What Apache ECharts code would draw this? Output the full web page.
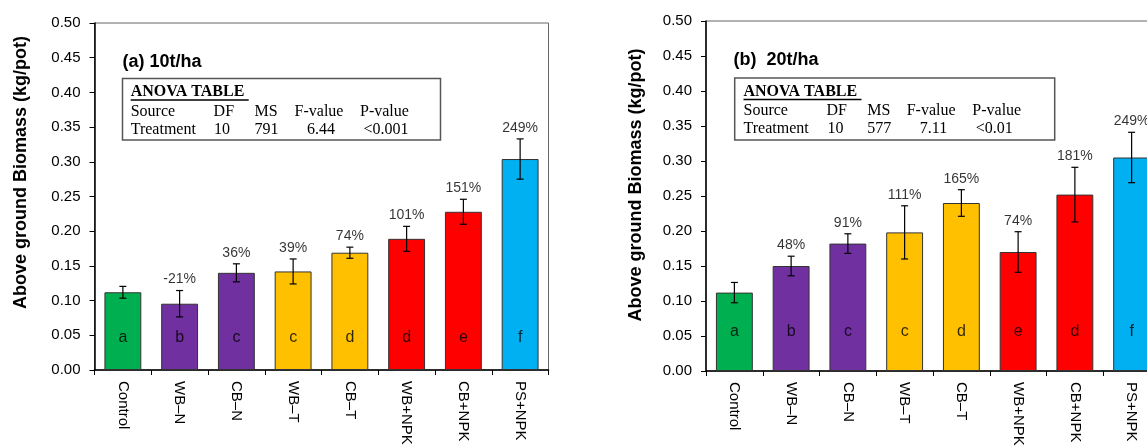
<!DOCTYPE html>
<html>
<head>
<meta charset="utf-8">
<script src="https://cdn.jsdelivr.net/npm/echarts@6/dist/echarts.min.js"></script>
<style>html,body{margin:0;padding:0;background:#fff}#c{width:1147px;height:446px}</style>
</head>
<body>
<div id="c"></div>
<script>
const categories = ['Control', 'WB\u2013N', 'CB\u2013N', 'WB\u2013T', 'CB\u2013T', 'WB+NPK', 'CB+NPK', 'PS+NPK'];
const yTicks = [0, 0.05, 0.10, 0.15, 0.20, 0.25, 0.30, 0.35, 0.40, 0.45, 0.50];

const meanA = [0.112, 0.0955, 0.140, 0.142, 0.169, 0.189, 0.228, 0.304];
const errA = [0.0085, 0.019, 0.013, 0.018, 0.008, 0.018, 0.018, 0.029];
const pctA = ['', '-21%', '36%', '39%', '74%', '101%', '151%', '249%'];
const letterA = ['a', 'b', 'c', 'c', 'd', 'd', 'e', 'f'];

const meanB = [0.112, 0.150, 0.182, 0.198, 0.240, 0.170, 0.252, 0.305];
const errB = [0.0145, 0.014, 0.014, 0.038, 0.019, 0.029, 0.039, 0.036];
const pctB = ['', '48%', '91%', '111%', '165%', '74%', '181%', '249%'];
const letterB = ['a', 'b', 'c', 'c', 'd', 'e', 'd', 'f'];

const anovaA = { ms: '791', f: '6.44', p: '<0.001' };
const anovaB = { ms: '577', f: '7.11', p: '<0.01' };

const barColors = ['#00B050', '#7030A0', '#7030A0', '#FFC000', '#FFC000', '#FF0000', '#FF0000', '#00B0F0'];

const chart = echarts.init(document.getElementById('c'), null, { renderer: 'canvas' });
const SANS = 'Liberation Sans, Arial, sans-serif';
const SERIF = 'Liberation Serif, Times New Roman, serif';

function grid(left, top, height) {
  return { left: left, top: top, width: 454, height: height, show: true, borderColor: '#666', borderWidth: 1, containLabel: false, outerBoundsMode: 'none' };
}
function xAxis(gi) {
  return {
    type: 'category', gridIndex: gi, data: categories, boundaryGap: true,
    axisLine: { lineStyle: { color: '#000', width: 1.5 } },
    axisTick: { show: true, length: 5, lineStyle: { color: '#000', width: 1 } },
    axisLabel: { rotate: -90, margin: 11, color: '#000', fontFamily: SANS, fontSize: 15, interval: 0 },
    splitLine: { show: false }
  };
}
function yAxis(gi) {
  return {
    type: 'value', gridIndex: gi, min: 0, max: 0.5, interval: 0.05,
    axisLine: { show: true, lineStyle: { color: '#000', width: 1.5 } },
    axisTick: { show: true, length: 5, lineStyle: { color: '#000', width: 1 } },
    axisLabel: { margin: 14, color: '#000', fontFamily: SANS, fontSize: 15, formatter: v => v.toFixed(2) },
    splitLine: { show: false }
  };
}
function errRender(params, api) {
  const x = api.value(0), m = api.value(1), e = api.value(2);
  const top = api.coord([x, m + e]);
  const bot = api.coord([x, m - e]);
  const cap = 3.5;
  const st = { stroke: '#000', lineWidth: 1.2 };
  return {
    type: 'group', children: [
      { type: 'line', shape: { x1: top[0], y1: top[1], x2: bot[0], y2: bot[1] }, style: st },
      { type: 'line', shape: { x1: top[0] - cap, y1: top[1], x2: top[0] + cap, y2: top[1] }, style: st },
      { type: 'line', shape: { x1: bot[0] - cap, y1: bot[1], x2: bot[0] + cap, y2: bot[1] }, style: st }
    ]
  };
}
function panelSeries(gi, mean, err, pct, letters, letterY) {
  return [
    {
      type: 'bar', xAxisIndex: gi, yAxisIndex: gi, barWidth: '65%',
      data: mean.map((v, i) => ({ value: v, itemStyle: { color: barColors[i], borderColor: '#333', borderWidth: 1 } })),
      z: 2
    },
    {
      type: 'custom', xAxisIndex: gi, yAxisIndex: gi, renderItem: errRender,
      data: mean.map((v, i) => [i, v, err[i]]), encode: { x: 0, y: 1 }, z: 5
    },
    {
      type: 'scatter', xAxisIndex: gi, yAxisIndex: gi, symbolSize: 0,
      data: mean.map((v, i) => [i, v + err[i]]),
      label: { show: true, position: 'top', distance: 4, color: '#000', fontFamily: SANS, fontSize: 14, formatter: p => pct[p.dataIndex] },
      z: 6
    },
    {
      type: 'scatter', xAxisIndex: gi, yAxisIndex: gi, symbolSize: 0,
      data: mean.map((v, i) => [i, letterY]),
      label: { show: true, position: 'inside', color: '#000', fontFamily: SANS, fontSize: 16, formatter: p => letters[p.dataIndex] },
      z: 6
    }
  ];
}
function anovaBox(x0, y0, w, h, cols, vals, title, tx, ty, ytx, yty) {
  const t = (text, x, y, extra) => ({ type: 'text', x: x, y: y, style: Object.assign({ text: text, font: '16px ' + SERIF, fill: '#000', textVerticalAlign: 'middle', textAlign: 'left' }, extra || {}) });
  return [
    { type: 'rect', shape: { x: x0, y: y0, width: w, height: h }, style: { fill: '#fff', stroke: '#555', lineWidth: 1.5 }, z: 10 },
    Object.assign(t('ANOVA TABLE', cols[0], y0 + 13.5, { font: 'bold 16px ' + SERIF }), { z: 11 }),
    { type: 'line', shape: { x1: cols[0], y1: y0 + 21.5, x2: cols[0] + 118, y2: y0 + 21.5 }, style: { stroke: '#000', lineWidth: 1.6 }, z: 11 },
    Object.assign(t('Source', cols[0], y0 + 33), { z: 11 }),
    Object.assign(t('DF', cols[1], y0 + 33), { z: 11 }),
    Object.assign(t('MS', cols[2], y0 + 33), { z: 11 }),
    Object.assign(t('F-value', cols[3], y0 + 33), { z: 11 }),
    Object.assign(t('P-value', cols[4], y0 + 33), { z: 11 }),
    Object.assign(t('Treatment', cols[0], y0 + 51), { z: 11 }),
    Object.assign(t('10', vals[0], y0 + 51), { z: 11 }),
    Object.assign(t(vals.ms, vals[1], y0 + 51), { z: 11 }),
    Object.assign(t(vals.f, vals[2], y0 + 51), { z: 11 }),
    Object.assign(t(vals.p, vals[3], y0 + 51), { z: 11 }),
    { type: 'text', x: tx, y: ty, z: 11, style: { text: title, font: 'bold 18px ' + SANS, fill: '#000', textVerticalAlign: 'middle' } },
    { type: 'text', x: ytx, y: yty, rotation: Math.PI / 2, z: 11, style: { text: 'Above ground Biomass (kg/pot)', font: 'bold 18px ' + SANS, fill: '#000', textAlign: 'center', textVerticalAlign: 'middle' } }
  ];
}
const valsA = Object.assign([214, 254.6, 307, 363.6], anovaA);
const valsB = Object.assign([827.6, 867.3, 919.8, 975.8], anovaB);

chart.setOption({
  animation: false,
  grid: [grid(94.5, 23, 347), grid(706, 21, 350)],
  xAxis: [xAxis(0), xAxis(1)],
  yAxis: [yAxis(0), yAxis(1)],
  series: [].concat(
    panelSeries(0, meanA, errA, pctA, letterA, 0.046),
    panelSeries(1, meanB, errB, pctB, letterB, 0.056)
  ),
  graphic: [].concat(
    anovaBox(122.5, 78.5, 318, 61.5, [130.7, 213.6, 254.6, 294.6, 360], valsA, '(a) 10t/ha', 122.5, 62, 21, 172.5),
    anovaBox(734.7, 78, 320, 62, [743.5, 826.5, 867.3, 906.7, 972.3], valsB, '(b)  20t/ha', 733.6, 60, 635.7, 185)
  )
});
</script>
</body>
</html>
